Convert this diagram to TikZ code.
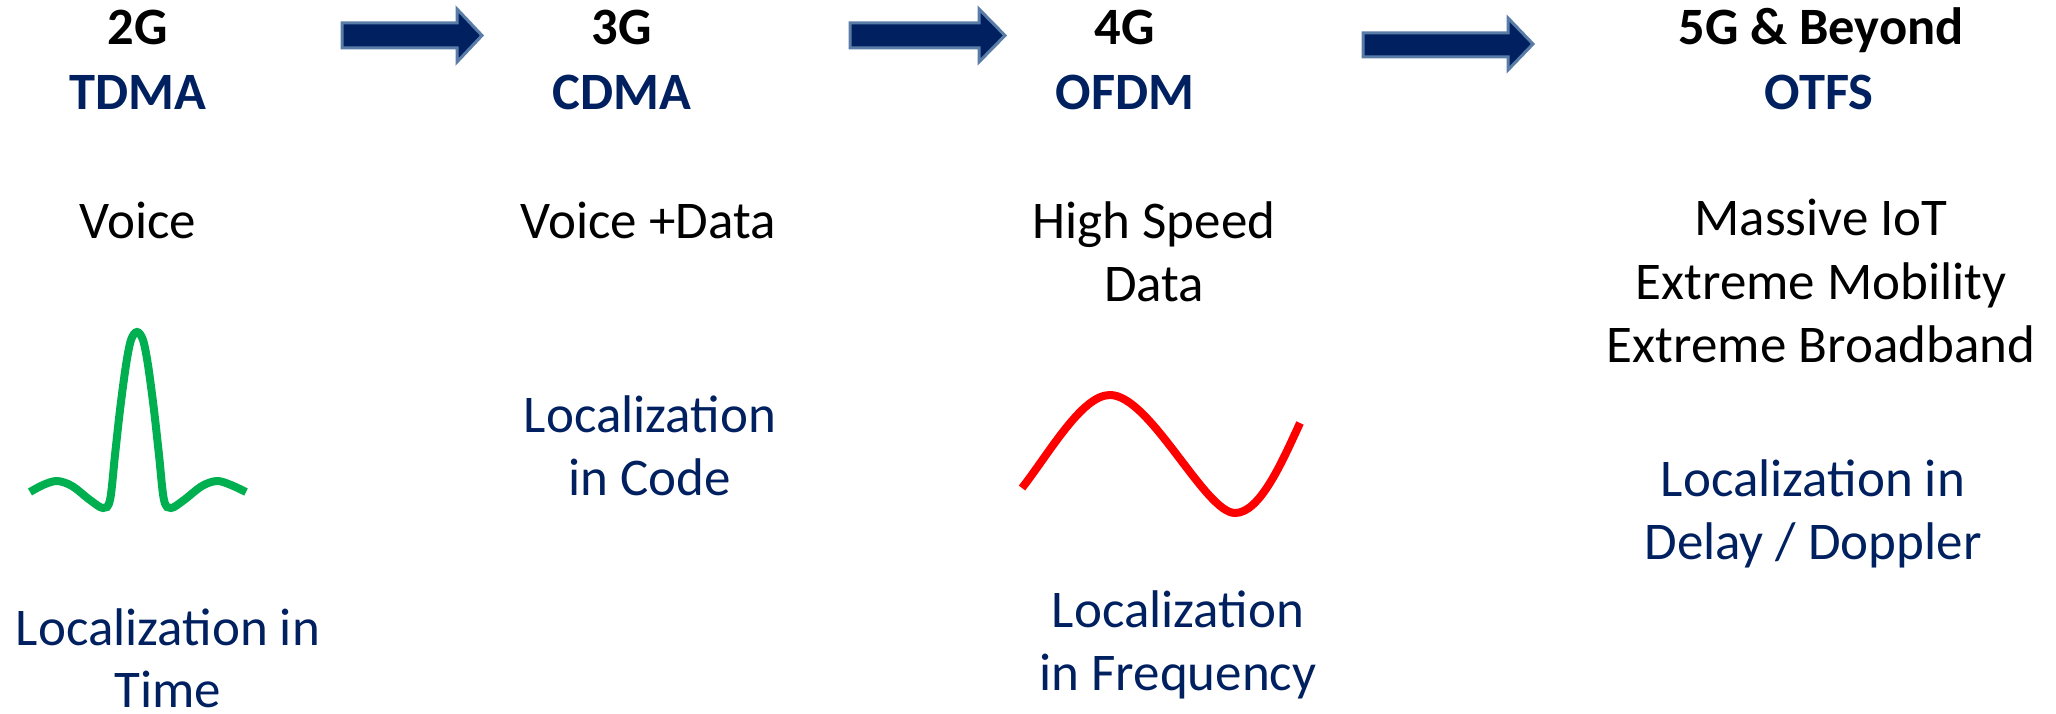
\documentclass[tikz,border=0pt]{standalone}
\usepackage{fontspec}
\setmainfont{Carlito}
\definecolor{navy}{HTML}{002060}
\definecolor{arrowedge}{HTML}{5A7DA8}
\definecolor{sincgreen}{HTML}{00B050}
\begin{document}
\begin{tikzpicture}[x=1pt,y=-1pt,
  txt/.style={font=\fontsize{53}{63}\selectfont, inner sep=0pt, anchor=base, align=center},
  head/.style={txt, font=\fontsize{52.5}{63}\selectfont\bfseries},
  blue/.style={text=navy},
  bigarrow/.style={fill=navy, draw=arrowedge, line width=3pt, line join=miter},
  wave/.style={line width=8pt}
]
\useasboundingbox (0,0) rectangle (2056,714);

% headers
\node[head] (g2) at (138,45) {2G};
\node[head,blue] (tdma) at (138,110) {TDMA};
\node[head] (g3) at (622,45) {3G};
\node[head,blue] (cdma) at (622,110) {CDMA};
\node[head] (g4) at (1125,45) {4G};
\node[head,blue] (ofdm) at (1125,110) {OFDM};
\node[head] (g5) at (1821,45) {5G \& Beyond};
\node[head,blue] (otfs) at (1819,110) {OTFS};

% arrows
\draw[bigarrow] (342,23) -- (457,23) -- (457,9) -- (482,35.5) -- (457,62) -- (457,48) -- (342,48) -- cycle;
\draw[bigarrow] (850,23) -- (979,23) -- (979,9) -- (1005,35.5) -- (979,62) -- (979,48) -- (850,48) -- cycle;
\draw[bigarrow] (1363,33) -- (1508,33) -- (1508,18) -- (1533,44) -- (1508,70) -- (1508,57) -- (1363,57) -- cycle;

% services
\node[txt] (voice) at (138,238) {Voice};
\node[txt] (voicedata) at (648,238) {Voice +Data};
\node[txt] (hsd1) at (1154,238) {High Speed};
\node[txt] (hsd2) at (1154,301) {Data};
\node[txt] (m1) at (1821,236) {Massive IoT};
\node[txt] (m2) at (1821,299) {Extreme Mobility};
\node[txt] (m3) at (1821,362) {Extreme Broadband};

% localization
\node[txt,blue] (lt1) at (168,645) {Localization in};
\node[txt,blue] (lt2) at (168,707) {Time};
\node[txt,blue] (lc1) at (650,432) {Localization};
\node[txt,blue] (lc2) at (650,495) {in Code};
\node[txt,blue] (lf1) at (1178,627) {Localization};
\node[txt,blue] (lf2) at (1178,690) {in Frequency};
\node[txt,blue] (ld1) at (1813,496) {Localization in};
\node[txt,blue] (ld2) at (1813,559) {Delay / Doppler};

% sinc pulse
\draw[wave, sincgreen] plot[smooth, tension=0.55] coordinates {
  (30,492) (43,485) (57,481) (72,486) (90,500) (103,508) (110,500) (115,455)
  (120,410) (126,365) (131,340) (137,332) (143,340) (148,365) (154,410)
  (159,455) (164,500) (171,508) (184,500) (202,486) (217,481) (231,485) (246,492)};

% sine wave
\draw[wave, red] (1022,488) .. controls (1050,452) and (1082,395) .. (1110,395)
  .. controls (1150,395) and (1205,513) .. (1235,513)
  .. controls (1260,513) and (1282,462) .. (1300,423);
\end{tikzpicture}
\end{document}
